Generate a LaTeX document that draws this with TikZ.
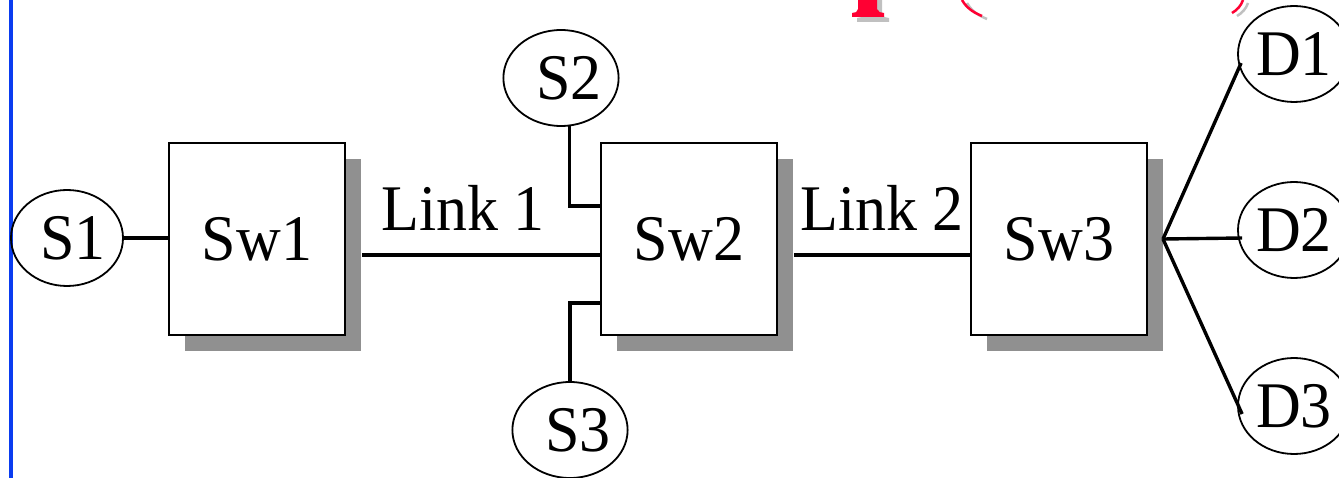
\documentclass[tikz,border=0pt]{standalone}
\usepackage{fontspec}
\usepackage{graphicx}
\setmainfont{Liberation Serif}
\usetikzlibrary{shadows,shapes.geometric}
\definecolor{shadowgray}{RGB}{144,144,144}
\definecolor{lightshadow}{RGB}{192,192,192}
\definecolor{barblue}{RGB}{10,60,240}
\definecolor{titlered}{RGB}{255,0,51}
\newcommand\tallt[1]{\scalebox{1}[1.05]{#1}}
\tikzset{
  big/.style={font=\fontsize{62}{68}\selectfont},
  switchbox/.style={draw, line width=2pt, fill=white, minimum width=176pt, minimum height=192pt, inner sep=0pt, big,
    drop shadow={shadow xshift=16pt, shadow yshift=-16pt, fill=shadowgray, opacity=1}},
  host/.style={draw, ellipse, line width=1.8pt, minimum width=112pt, minimum height=96pt, inner sep=0pt, big},
  wire/.style={line width=3.4pt},
  linklabel/.style={anchor=base west, inner sep=0pt, big}
}
\begin{document}
\begin{tikzpicture}[x=1pt,y=-1pt]
\useasboundingbox (0,0) rectangle (1339,478);
\clip (0,0) rectangle (1339,478);
% blue margin line
\draw[barblue, line width=4pt] (10.5,0) -- (10.5,478);
% title fragments (cut off at top)
\fill[lightshadow] (863,0) -- (882,0) -- (882,14) .. controls (883,17) and (886,18) .. (889,18) -- (889,22) -- (857,22) -- (857,18) .. controls (860,18) and (863,17) .. (863,14) -- cycle;
\fill[titlered] (858,0) -- (877,0) -- (877,9) .. controls (878,12) and (881,13) .. (884,13) -- (884,17) -- (852,17) -- (852,13) .. controls (855,13) and (858,12) .. (858,9) -- cycle;
\draw[lightshadow, line width=2.5pt] (967,3) .. controls (971,10) and (977,15) .. (987,19);
\draw[titlered, line width=2.5pt] (962,0) .. controls (966,7) and (972,12) .. (982,16);
\draw[lightshadow, line width=2.5pt] (1248,3) .. controls (1246,9) and (1242,13) .. (1237,16);
\draw[titlered, line width=2.5pt] (1243,0) .. controls (1241,6) and (1237,10) .. (1232,13);
% switches
\node[switchbox] (Sw1) at (257,239) {\tallt{Sw1}};
\node[switchbox] (Sw2) at (689,239) {\tallt{Sw2}};
\node[switchbox] (Sw3) at (1059,239) {\tallt{Sw3}};
% hosts
\node[host] (S1) at (67,238) {\hspace*{12pt}\tallt{S1}};
\node[host] (S2) at (561,78) {\hspace*{16pt}\tallt{S2}};
\node[host] (S3) at (570,430) {\hspace*{16pt}\tallt{S3}};
\node[host] (D1) at (1294,54) {\tallt{D1}};
\node[host] (D2) at (1294,230) {\tallt{D2}};
\node[host] (D3) at (1294,406) {\tallt{D3}};
% connectors
\draw[wire] (S1.east) -- (S1.east -| Sw1.west);
\draw[wire] ([shift={(16pt,-16pt)}]Sw1.east) -- ([yshift=-16pt]Sw2.west);
\draw[wire] ([shift={(16pt,-16pt)}]Sw2.east) -- ([yshift=-16pt]Sw3.west);
\draw[wire] (S2.-80) |- ([yshift=33pt]Sw2.west);
\draw[wire] ([yshift=-64pt]Sw2.west) -| (S3.north);
\coordinate (fan) at ([xshift=15pt]Sw3.east);
\draw[wire] (fan) -- ([shift={(4pt,-9pt)}]D1.west);
\draw[wire] (fan) -- ([shift={(5pt,-8pt)}]D2.west);
\draw[wire] (fan) -- ([shift={(5pt,-8pt)}]D3.west);
% link labels
\node[linklabel] (L1) at (381,231) {\tallt{Link 1}};
\node[linklabel] (L2) at (800,231) {\tallt{Link 2}};
\end{tikzpicture}
\end{document}
